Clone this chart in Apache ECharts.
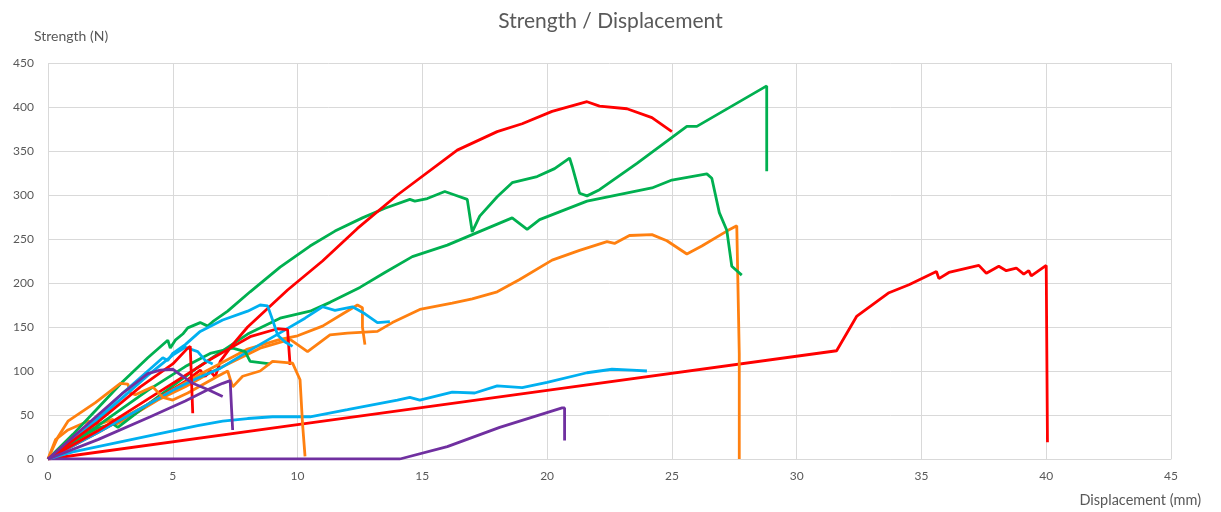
<!DOCTYPE html>
<html>
<head>
<meta charset="utf-8">
<script src="https://cdn.jsdelivr.net/npm/echarts@6/dist/echarts.min.js"></script>
<style>
html,body{margin:0;padding:0;background:#fff;}
#chart{width:1221px;height:512px;}
</style>
</head>
<body>
<div id="chart"></div>
<script>
// Tick settings
const xTicks = {min: 0, max: 45, interval: 5};
const yTicks = {min: 0, max: 450, interval: 50};

// Series values: [displacement (mm), strength (N)]
const red1 = [[0,0],[2,30],[4,62],[5.5,88],[6.1,101],[6.3,94],[6.5,100],[6.7,93],[6.9,111],[7.4,130],[8,150],[9.6,192],[11,225],[12.4,262],[14,300],[16.4,351],[18,372],[19,381],[20.2,395],[21.6,406],[22.1,401],[23.2,398],[24.2,388],[25,372]];
const red2 = [[0,0],[2,42],[3.7,82],[5,108],[5.6,126],[5.7,128],[5.75,90],[5.8,52]];
const red3 = [[0,0],[2,32],[4,68],[5.5,95],[6.5,113],[7.3,126],[8.1,139],[9.2,148],[9.6,147],[9.7,107]];
const red4 = [[0,0],[10,39],[20,78],[31.6,123],[32.4,162],[33.7,189],[34.5,198],[35.6,213],[35.7,205],[36.1,212],[37.3,220],[37.6,211],[38.1,219],[38.4,214],[38.8,217],[39.1,210],[39.3,214],[39.4,208],[40.0,220],[40.05,19]];

const green1 = [[0,0],[1,28],[2,58],[3,88],[4,115],[4.8,135],[4.9,126],[5.1,135],[5.4,142],[5.6,149],[6.1,155],[6.4,151],[6.6,156],[7.2,168],[8.1,190],[9.3,218],[10.5,242],[11.5,259],[12.6,274],[13.5,285],[14.5,295],[14.7,293],[15.2,296],[15.9,304],[16.3,300],[16.8,295],[17.0,258],[17.3,276],[18,298],[18.6,314],[19.6,321],[20.3,330],[20.9,342],[21.0,333],[21.3,302],[21.6,299],[22.1,306],[23.6,336],[25.6,378],[26,378],[28.8,424],[28.8,327]];
const green2 = [[0,0],[2,35],[2.6,40],[2.8,36],[4,62],[6,104],[8,142],[9.3,160],[10.5,168],[11.3,178],[12.5,195],[13.5,212],[14.6,230],[16,243],[17,255],[18.6,274],[19.2,261],[19.7,272],[21.6,293],[24.2,308],[25,317],[26.4,324],[26.6,319],[26.9,280],[27.2,260],[27.4,219],[27.8,209]];
const green3 = [[0,0],[2,38],[4,78],[5.5,105],[6.5,120],[7.4,126],[7.9,122],[8.1,111],[8.9,108]];

const blue1 = [[0,0],[1,22],[2,48],[3,75],[4,100],[4.6,115],[4.8,112],[5,120],[5.5,130],[6.1,145],[7,158],[8,168],[8.5,175],[8.8,174],[9,158],[9.2,141],[9.5,133],[9.8,128]];
const blue2 = [[0,0],[1,8],[2,14],[3,20],[4,26],[5,32],[6,38],[7,43],[8,46],[9,48],[10.5,48],[12,56],[14,67],[14.5,70],[14.9,67],[16.2,76],[17.1,75],[18,83],[19,81],[20,87],[21.6,98],[22.6,102],[23.4,101],[24,100]];
const blue3 = [[0,0],[2,30],[4,62],[5,78],[6,92],[6.9,103],[8,122],[9.4,145],[10.3,160],[11,173],[11.5,169],[12.2,173],[12.7,165],[13.2,155],[13.7,156]];
const blue4 = [[0,0],[2,45],[4,95],[5,118],[5.5,127],[6,122],[6.3,112],[6.6,108]];

const orange1 = [[0,0],[0.4,25],[0.8,43],[1.9,64],[2.9,86],[3.2,85],[3.3,75],[3.5,73],[4.2,82],[4.6,70],[5,67],[5.6,75],[6.8,94],[7.2,100],[7.4,82],[7.8,94],[8.5,100],[9,111],[9.8,109],[10.1,90],[10.2,40],[10.3,3]];
const orange2 = [[0,0],[0.3,22],[0.8,33],[1.6,43],[2.0,39],[2.6,45],[2.7,39],[3.4,50],[4.4,67],[5.5,82],[6.5,98],[7.5,112],[8.5,126],[9.7,136],[10.4,122],[11.3,141],[12,143],[13.2,145],[13.8,155],[14.9,170],[16.2,177],[17,182],[18,190],[18.9,204],[20.2,226],[21.3,237],[22.4,247],[22.7,245],[23.3,254],[24.2,255],[24.8,248],[25.6,233],[26.2,242],[27.2,259],[27.6,265],[27.7,120],[27.7,0]];
const orange3 = [[0,0],[2,32],[4,62],[6,95],[8,125],[9.3,136],[10,140],[11,151],[11.7,163],[12.4,175],[12.6,172],[12.6,150],[12.7,130]];

const purple1 = [[0,0],[1,25],[2,50],[3,75],[4,97],[4.5,101],[5,102],[5.4,94],[5.8,86],[6.4,79],[7,71]];
const purple2 = [[0,0],[2,22],[4.1,48],[5.5,66],[6.5,80],[7.0,86],[7.3,89],[7.35,60],[7.4,33]];
const purple3 = [[0,0],[14.1,0],[16,14],[18.1,36],[20.6,58],[20.7,58],[20.7,21]];

const colors = {red:'#FF0000', green:'#00B050', blue:'#00B0F0', orange:'#FF8010', purple:'#7030A0'};
const seriesDefs = [
  ['red4', red4, colors.red],
  ['purple3', purple3, colors.purple],
  ['blue2', blue2, colors.blue],
  ['orange2', orange2, colors.orange],
  ['green2', green2, colors.green],
  ['green1', green1, colors.green],
  ['red1', red1, colors.red],
  ['orange3', orange3, colors.orange],
  ['blue3', blue3, colors.blue],
  ['green3', green3, colors.green],
  ['red3', red3, colors.red],
  ['orange1', orange1, colors.orange],
  ['blue1', blue1, colors.blue],
  ['blue4', blue4, colors.blue],
  ['red2', red2, colors.red],
  ['purple2', purple2, colors.purple],
  ['purple1', purple1, colors.purple]
];

const chart = echarts.init(document.getElementById('chart'), null, {renderer:'canvas'});
const fontFam = 'Lato, "Open Sans", sans-serif';
chart.setOption({
  animation: false,
  backgroundColor: '#ffffff',
  title: [
    {text:'Strength / Displacement', left:'center', top:6, textStyle:{fontSize:21, fontWeight:'normal', color:'#595959', fontFamily:fontFam}},
    {text:'Strength (N)', left:29, top:24, textStyle:{fontSize:14, fontWeight:'normal', color:'#595959', fontFamily:fontFam}},
    {text:'Displacement (mm)', right:15, top:488, textStyle:{fontSize:14.5, fontWeight:'normal', color:'#595959', fontFamily:fontFam}}
  ],
  grid: {left:48, right:50, top:63, bottom:53, containLabel:false},
  xAxis: {
    type:'value', min:xTicks.min, max:xTicks.max, interval:xTicks.interval,
    axisLine:{show:true, lineStyle:{color:'#d9d9d9', width:1}},
    axisTick:{show:false},
    axisLabel:{color:'#595959', fontSize:12, fontFamily:fontFam, margin:11},
    splitLine:{show:true, lineStyle:{color:'#d9d9d9', width:1}}
  },
  yAxis: {
    type:'value', min:yTicks.min, max:yTicks.max, interval:yTicks.interval,
    axisLine:{show:false},
    axisTick:{show:false},
    axisLabel:{color:'#595959', fontSize:12, fontFamily:fontFam, margin:14},
    splitLine:{show:true, lineStyle:{color:'#d9d9d9', width:1}}
  },
  series: seriesDefs.map(([name, data, color]) => ({
    name, type:'line', data, showSymbol:false, symbol:'none',
    lineStyle:{color, width:2.8}, itemStyle:{color},
    smooth:false, z:2
  }))
});
</script>
</body>
</html>
